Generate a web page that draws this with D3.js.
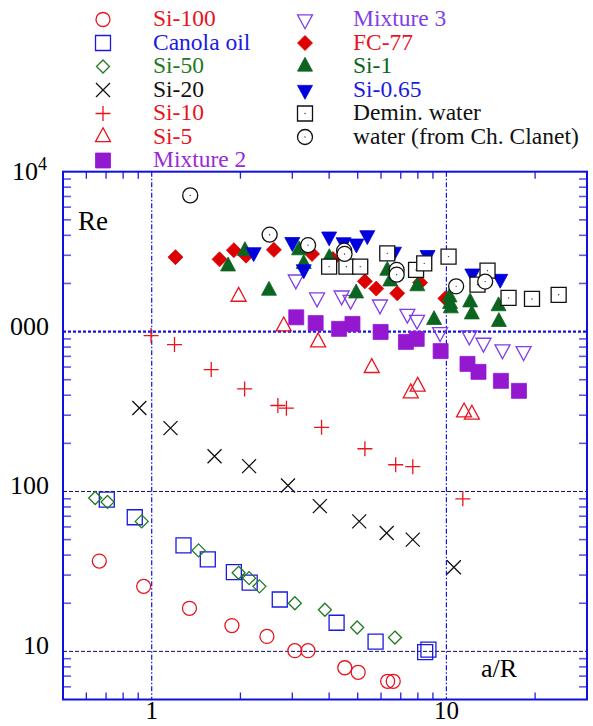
<!DOCTYPE html>
<html>
<head>
<meta charset="utf-8">
<script src="https://cdn.jsdelivr.net/npm/d3@7"></script>
<style>
  body { margin: 0; background: #fff; }
  text { font-family: "Liberation Serif", "Times New Roman", serif; }
</style>
</head>
<body>
<div id="mainDiv"></div>
<script>
'use strict';

// values: [a/R, Re]
var si100 = [[0.664, 36.7], [0.939, 25.5], [1.343, 18.6], [1.871, 14.5], [2.46, 12.4], [3.06, 10.1],
    [3.39, 10.1], [4.52, 7.9], [5.02, 7.4], [6.32, 6.5], [6.6, 6.5]];
var canola = [[0.704, 89], [0.876, 69], [1.282, 46], [1.55, 37.6], [1.90, 31.3], [2.15, 26.9],
    [2.72, 21.1], [4.24, 15.1], [5.75, 11.5], [8.47, 9.9], [8.69, 10.25]];
var si50 = [[0.643, 91], [0.708, 86], [0.925, 65], [1.442, 42.8], [1.972, 31], [2.14, 28.7],
    [2.32, 25.5], [3.06, 20], [3.87, 18.2], [4.98, 14.1], [6.69, 12.2]];
var si20 = [[0.908, 333], [1.158, 249], [1.634, 166], [2.14, 144], [2.90, 109], [3.72, 81],
    [5.06, 65], [6.27, 55], [7.69, 50], [10.6, 33.6]];
var si10 = [[0.995, 944], [1.195, 829], [1.592, 579], [2.067, 438], [2.68, 345], [2.865, 332],
    [3.77, 252], [5.29, 185], [6.73, 147], [7.69, 143], [11.37, 90]];
var si5 = [[1.972, 1655], [2.805, 1080], [3.67, 858], [5.58, 593], [7.57, 412], [7.99, 453],
    [11.48, 313], [12.2, 303]];
var mixture2 = [[3.094, 1228], [3.60, 1130], [4.325, 1040], [4.80, 1117], [5.98, 995], [7.29, 862],
    [7.93, 900], [9.56, 755], [11.79, 628], [12.85, 560], [15.31, 492], [17.63, 426]];
var mixture3 = [[3.083, 2113], [3.64, 1632], [4.41, 1679], [4.73, 1578], [5.95, 1475], [7.37, 1290],
    [7.95, 1183], [9.52, 990], [11.96, 944], [13.36, 850], [15.5, 772], [18.28, 753]];
var fc77 = [[1.204, 2921], [1.699, 2831], [1.90, 3230], [2.09, 2985], [2.598, 3245], [3.50, 3059],
    [4.12, 2846], [5.29, 2062], [5.78, 1857], [6.81, 1735], [8.14, 2024], [9.92, 1613]];
var si1 = [[1.816, 2559], [2.072, 3193], [2.50, 1804], [3.162, 3230], [3.28, 2649], [4.006, 2888],
    [4.94, 1735], [6.30, 2405], [6.45, 2062], [7.97, 1924], [9.08, 1183], [10.25, 1638],
    [10.29, 1490], [10.35, 1400], [12.04, 1525], [12.2, 1283], [15.03, 1443], [15.07, 1151]];
var si065 = [[2.218, 3130], [3.0, 3625], [3.28, 2448], [4.0, 3926], [4.48, 3614], [4.95, 3548],
    [5.39, 4000], [6.64, 3155], [8.63, 3008], [12.25, 2304], [15.23, 2134]];
var deminWater = [[4.0, 2548], [4.58, 2548], [5.10, 2548], [6.30, 3085], [7.89, 2430], [8.41, 2672],
    [10.17, 2944], [12.75, 1967], [13.79, 2405], [16.25, 1624], [19.52, 1600], [24.04, 1698]];
var waterClanet = [[1.351, 7110], [2.513, 4036], [3.394, 3472], [4.498, 3206], [4.512, 3059],
    [6.78, 2430], [6.78, 2270], [10.79, 1919], [13.54, 2054]];

var seriesNames = ['Si-100', 'Canola oil', 'Si-50', 'Si-20', 'Si-10', 'Si-5', 'Mixture 2',
    'Mixture 3', 'FC-77', 'Si-1', 'Si-0.65', 'Demin. water', 'water (from Ch. Clanet)'];
var seriesData = [si100, canola, si50, si20, si10, si5, mixture2, mixture3, fc77, si1, si065,
    deminWater, waterClanet];

var xMinorTicks = [0.6, 0.7, 0.8, 0.9, 2, 3, 4, 5, 6, 7, 8, 9, 20];
var xTickLabels = [[1, '1'], [10, '10']];
var yTickLabels = [[10, '10'], [100, '100'], [1000, '000']];

var myApp = {};

myApp.w = 593;
myApp.h = 726;
myApp.plot = {left: 63, right: 587, top: 171.7, bottom: 699.5};
myApp.svg = undefined;
myApp.x = undefined;
myApp.y = undefined;

// marker look for each series, same order as seriesNames
myApp.styles = [
    {shape: 'circle', r: 7, stroke: '#e8141e', fill: 'none', text: '#e8141e'},
    {shape: 'square', r: 7.5, stroke: '#1a1ae0', fill: 'none', text: '#1a1ae0'},
    {shape: 'diamond', r: 6.5, stroke: '#217a21', fill: 'none', text: '#217a21'},
    {shape: 'times', r: 7, stroke: '#111', fill: 'none', text: '#111'},
    {shape: 'plus', r: 7.5, stroke: '#e8141e', fill: 'none', text: '#e8141e'},
    {shape: 'triUp', r: 7.5, stroke: '#e8141e', fill: 'none', text: '#e8141e'},
    {shape: 'square', r: 7.5, stroke: '#9418d0', fill: '#9418d0', text: '#9a2ad8'},
    {shape: 'triDown', r: 7.5, stroke: '#7f3fe6', fill: 'none', text: '#7f3fe6'},
    {shape: 'diamond', r: 7.5, stroke: '#dd0000', fill: '#dd0000', text: '#e8141e'},
    {shape: 'triUp', r: 7.5, stroke: '#0b6420', fill: '#0b6420', text: '#0b6420'},
    {shape: 'triDown', r: 7.5, stroke: '#0000dd', fill: '#0000dd', text: '#1a1ae0'},
    {shape: 'square', r: 7.5, stroke: '#111', fill: '#fff', text: '#111', dot: true},
    {shape: 'circle', r: 7.5, stroke: '#111', fill: '#fff', text: '#111', dot: true}
];

myApp.markerPath = function(shape, r)
{
    var h = r * 1.85;
    if (shape == 'circle') return d3.symbol(d3.symbolCircle, Math.PI * r * r)();
    if (shape == 'square') return 'M' + (-r) + ',' + (-r) + 'H' + r + 'V' + r + 'H' + (-r) + 'Z';
    if (shape == 'diamond') return 'M0,' + (-r) + 'L' + r + ',0L0,' + r + 'L' + (-r) + ',0Z';
    if (shape == 'times') return 'M' + (-r) + ',' + (-r) + 'L' + r + ',' + r + 'M' + (-r) + ',' + r + 'L' + r + ',' + (-r);
    if (shape == 'plus') return 'M' + (-r) + ',0H' + r + 'M0,' + (-r) + 'V' + r;
    if (shape == 'triUp') return 'M0,' + (-h * 2 / 3) + 'L' + r + ',' + (h / 3) + 'L' + (-r) + ',' + (h / 3) + 'Z';
    if (shape == 'triDown') return 'M0,' + (h * 2 / 3) + 'L' + r + ',' + (-h / 3) + 'L' + (-r) + ',' + (-h / 3) + 'Z';
}

myApp.appendSvg = function(div)
{
    myApp.svg = d3.select(div).append('svg')
        .attr('width', myApp.w)
        .attr('height', myApp.h);

    myApp.x = d3.scaleLog().domain([0.5, 30]).range([myApp.plot.left, myApp.plot.right]);
    myApp.y = d3.scaleLog().domain([5, 10000]).range([myApp.plot.bottom, myApp.plot.top]);
}

myApp.drawGrid = function()
{
    var p = myApp.plot;
    var g = myApp.svg.append('g').attr('class', 'grid');

    g.selectAll('line.vgrid')
        .data([1, 10])
        .enter()
        .append('line')
        .attr('x1', function(d){ return myApp.x(d); })
        .attr('x2', function(d){ return myApp.x(d); })
        .attr('y1', p.top)
        .attr('y2', p.bottom)
        .style('stroke', '#1010e0')
        .style('stroke-width', 1.2)
        .style('stroke-dasharray', '5,2,1.5,2');

    g.selectAll('line.hgrid')
        .data([10, 100])
        .enter()
        .append('line')
        .attr('x1', p.left)
        .attr('x2', p.right)
        .attr('y1', function(d){ return myApp.y(d); })
        .attr('y2', function(d){ return myApp.y(d); })
        .style('stroke', '#10106a')
        .style('stroke-width', 1)
        .style('stroke-dasharray', '4,2');

    g.append('line')
        .attr('x1', p.left)
        .attr('x2', p.right)
        .attr('y1', myApp.y(1000))
        .attr('y2', myApp.y(1000))
        .style('stroke', '#1414e0')
        .style('stroke-width', 2.4)
        .style('stroke-dasharray', '3,2');
}

myApp.drawAxes = function()
{
    var p = myApp.plot;
    var g = myApp.svg.append('g').attr('class', 'axes');
    var yMinor = [];
    [1, 10, 100, 1000].forEach(function(dec){
        for (var k = 2; k <= 9; k++) if (dec * k > 5) yMinor.push(dec * k);
    });

    // bottom and top ticks pointing inward
    [p.bottom, p.top].forEach(function(yy, i){
        g.selectAll('line.xt' + i)
            .data(xMinorTicks)
            .enter()
            .append('line')
            .attr('x1', function(d){ return myApp.x(d); })
            .attr('x2', function(d){ return myApp.x(d); })
            .attr('y1', yy)
            .attr('y2', i == 0 ? yy - 7 : yy + 7)
            .style('stroke', '#2020e0')
            .style('stroke-width', 1.3);
    });

    [p.left, p.right].forEach(function(xx, i){
        g.selectAll('line.yt' + i)
            .data(yMinor)
            .enter()
            .append('line')
            .attr('x1', xx)
            .attr('x2', i == 0 ? xx + 8 : xx - 8)
            .attr('y1', function(d){ return myApp.y(d); })
            .attr('y2', function(d){ return myApp.y(d); })
            .style('stroke', '#5a5ae8')
            .style('stroke-width', 1.6);
    });

    g.append('rect')
        .attr('x', p.left)
        .attr('y', p.top)
        .attr('width', p.right - p.left)
        .attr('height', p.bottom - p.top)
        .style('fill', 'none')
        .style('stroke', '#1010e0')
        .style('stroke-width', 2);

    g.selectAll('text.xl')
        .data(xTickLabels)
        .enter()
        .append('text')
        .attr('x', function(d){ return myApp.x(d[0]); })
        .attr('y', 719)
        .attr('text-anchor', 'middle')
        .style('font-size', '25px')
        .text(function(d){ return d[1]; });

    g.selectAll('text.yl')
        .data(yTickLabels)
        .enter()
        .append('text')
        .attr('x', 49)
        .attr('y', function(d){ return myApp.y(d[0]) + 3; })
        .attr('text-anchor', 'end')
        .style('font-size', '26px')
        .text(function(d){ return d[1]; });

    var top = g.append('text')
        .attr('x', 12)
        .attr('y', 180)
        .style('font-size', '26px');
    top.append('tspan').text('10');
    top.append('tspan').attr('dy', -10).style('font-size', '18px').text('4');

    g.append('text')
        .attr('x', 78)
        .attr('y', 230)
        .style('font-size', '27px')
        .text('Re');

    g.append('text')
        .attr('x', 481)
        .attr('y', 677)
        .style('font-size', '26px')
        .text('a/R');
}

myApp.drawMarker = function(sel, st)
{
    sel.append('path')
        .attr('d', myApp.markerPath(st.shape, st.r))
        .style('fill', st.fill)
        .style('stroke', st.stroke)
        .style('stroke-width', st.fill == 'none' || st.dot ? 1.3 : 0.8);
    if (st.dot) {
        sel.append('circle').attr('r', 0.7).style('fill', '#333');
    }
}

myApp.drawSeries = function()
{
    var g = myApp.svg.append('g').attr('class', 'marks');
    seriesData.forEach(function(data, i){
        var st = myApp.styles[i];
        g.selectAll('g.s' + i)
            .data(data)
            .enter()
            .append('g')
            .attr('transform', function(d){ return 'translate(' + myApp.x(d[0]) + ',' + myApp.y(d[1]) + ')'; })
            .each(function(){ myApp.drawMarker(d3.select(this), st); });
    });
}

myApp.drawLegend = function()
{
    var g = myApp.svg.append('g').attr('class', 'legend');
    seriesNames.forEach(function(name, i){
        var col = i < 7 ? 0 : 1;
        var row = i < 7 ? i : i - 7;
        var cy = 19.5 + row * 23.5;
        var st = myApp.styles[i];
        var item = g.append('g');
        var m = item.append('g').attr('transform', 'translate(' + (col == 0 ? 103 : 305) + ',' + cy + ')');
        myApp.drawMarker(m, st);
        item.append('text')
            .attr('x', col == 0 ? 153 : 353)
            .attr('y', cy + 6.5)
            .style('font-size', '23.5px')
            .style('fill', st.text)
            .text(name);
    });
}

myApp.run = function()
{
    myApp.appendSvg('#mainDiv');
    myApp.drawGrid();
    myApp.drawAxes();
    myApp.drawSeries();
    myApp.drawLegend();
}

window.onload = myApp.run;
</script>
</body>
</html>
